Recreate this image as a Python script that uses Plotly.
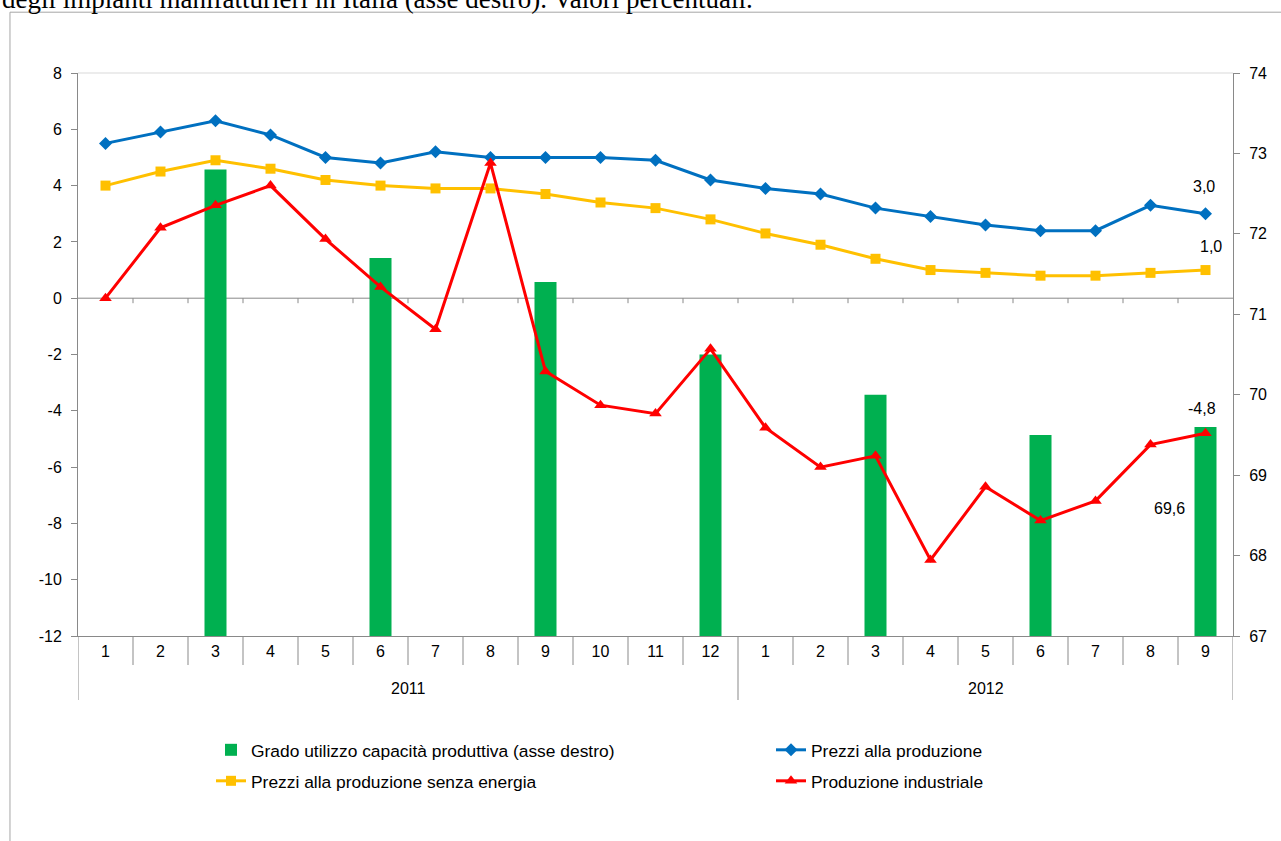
import plotly.graph_objects as go

years = ["2011"] * 12 + ["2012"] * 9
months = [str(m) for m in range(1, 13)] + [str(m) for m in range(1, 10)]

prezzi = [5.5, 5.9, 6.3, 5.8, 5.0, 4.8, 5.2, 5.0, 5.0, 5.0, 4.9, 4.2,
          3.9, 3.7, 3.2, 2.9, 2.6, 2.4, 2.4, 3.3, 3.0]
prezzi_no_energia = [4.0, 4.5, 4.9, 4.6, 4.2, 4.0, 3.9, 3.9, 3.7, 3.4, 3.2, 2.8,
                     2.3, 1.9, 1.4, 1.0, 0.9, 0.8, 0.8, 0.9, 1.0]
produzione = [0.0, 2.5, 3.3, 4.0, 2.1, 0.4, -1.1, 4.8, -2.6, -3.8, -4.1, -1.8,
              -4.6, -6.0, -5.6, -9.3, -6.7, -7.9, -7.2, -5.2, -4.8]
capacita = [None, None, 72.8, None, None, 71.7, None, None, 71.4, None, None, 70.5,
            None, None, 70.0, None, None, 69.5, None, None, 69.6]

left_ticks = list(range(-12, 9, 2))
right_ticks = list(range(67, 75))

FONT = "Liberation Sans, Arial, sans-serif"
GRAY = "#898989"
n = len(months)
xs = list(range(n))

fig = go.Figure()
fig.add_trace(go.Bar(x=xs, y=capacita, name="Grado utilizzo capacità produttiva (asse destro)",
                     marker=dict(color="#00B050", line=dict(width=0)), width=0.4, yaxis="y",
                     legend="legend"))
fig.add_trace(go.Scatter(x=xs, y=prezzi, name="Prezzi alla produzione", mode="lines+markers",
                         line=dict(color="#0070C0", width=3), marker=dict(symbol="diamond", size=10, color="#0070C0"),
                         yaxis="y2", legend="legend2"))
fig.add_trace(go.Scatter(x=xs, y=prezzi_no_energia, name="Prezzi alla produzione senza energia",
                         mode="lines+markers", line=dict(color="#FFC000", width=3),
                         marker=dict(symbol="square", size=10, color="#FFC000"), yaxis="y2", legend="legend3"))
fig.add_trace(go.Scatter(x=xs, y=produzione, name="Produzione industriale", mode="lines+markers",
                         line=dict(color="#FF0000", width=3),
                         marker=dict(symbol="triangle-up", size=11, color="#FF0000"), yaxis="y2",
                         legend="legend4"))

def fmt(v):
    return f"{v:.1f}".replace(".", ",")

annotations = [
    dict(xref="x", yref="y2", x=xs[-1], y=prezzi[-1], text=fmt(prezzi[-1]), showarrow=False,
         yshift=27, xshift=-2),
    dict(xref="x", yref="y2", x=xs[-1], y=prezzi_no_energia[-1], text=fmt(prezzi_no_energia[-1]),
         showarrow=False, yshift=24, xshift=5),
    dict(xref="x", yref="y2", x=xs[-1], y=produzione[-1], text=fmt(produzione[-1]), showarrow=False,
         yshift=25, xshift=-4),
    dict(xref="x", yref="y", x=xs[-1], y=capacita[-1], text=fmt(capacita[-1]), showarrow=False,
         yshift=-82, xshift=-36),
    dict(xref="paper", yref="paper", x=-0.0675, y=1.1012, xanchor="left", yanchor="bottom",
         text="degli impianti manifatturieri in Italia (asse destro). Valori percentuali.", showarrow=False,
         font=dict(family="Liberation Serif, Times New Roman, serif", size=27, color="black")),
]

year_names = []
for y in years:
    if y not in year_names:
        year_names.append(y)
for yname in year_names:
    idx = [i for i, y in enumerate(years) if y == yname]
    annotations.append(dict(xref="x", yref="paper", x=(idx[0] + idx[-1]) / 2, y=0, yanchor="middle",
                            yshift=-52, text=yname, showarrow=False, font=dict(size=16)))

shapes = [
    dict(type="rect", xref="paper", yref="paper", x0=-0.0589, x1=1.06, y0=-0.4, y1=1.108,
         line=dict(color="#A6A6A6", width=1), layer="below"),
    dict(type="line", xref="paper", yref="paper", x0=0, x1=1, y0=1, y1=1,
         line=dict(color="#D9D9D9", width=1), layer="below"),
    dict(type="line", xref="paper", yref="y2", x0=0, x1=1, y0=0, y1=0,
         line=dict(color=GRAY, width=1), layer="below"),
]
for k in range(0, n + 1):
    b = k - 0.5
    is_year_edge = k == 0 or k == n or years[k] != years[k - 1]
    if 0 < k < n:
        shapes.append(dict(type="line", xref="x", yref="y2", ysizemode="pixel", yanchor=0,
                           x0=b, x1=b, y0=0, y1=-5, line=dict(color=GRAY, width=1), layer="below"))
    shapes.append(dict(type="line", xref="x", yref="paper", ysizemode="pixel", yanchor=0,
                       x0=b, x1=b, y0=0, y1=-64 if is_year_edge else -29,
                       line=dict(color=GRAY, width=1), layer="below"))

PW, PH, L, T = 1155, 563, 78, 73

def legend_at(px, py):
    return dict(orientation="v", x=(px - L) / PW, xanchor="left", y=(T + PH - py) / PH, yanchor="middle",
                font=dict(size=17.4, family=FONT), bgcolor="rgba(0,0,0,0)", borderwidth=0)

fig.update_layout(
    width=1281, height=841,
    margin=dict(l=L, r=1281 - L - PW, t=T, b=841 - T - PH),
    paper_bgcolor="white", plot_bgcolor="white",
    font=dict(family=FONT, size=16, color="black"),
    showlegend=True,
    legend=legend_at(211, 750),
    legend2=legend_at(771, 750),
    legend3=legend_at(211, 781),
    legend4=legend_at(771, 781),
    bargap=0.6,
    xaxis=dict(range=[-0.5, n - 0.5], tickmode="array", tickvals=xs, ticktext=months, ticks="",
               showline=True, linecolor=GRAY, showgrid=False, zeroline=False, tickfont=dict(size=16),
               ticklabelstandoff=1),
    yaxis=dict(range=[67, 74], tickmode="array", tickvals=right_ticks, ticktext=[str(t) for t in right_ticks],
               side="right", showline=True, linecolor=GRAY, ticks="outside",
               ticklen=6, tickcolor=GRAY, showgrid=False, zeroline=False, tickfont=dict(size=16),
               ticklabelstandoff=6),
    yaxis2=dict(range=[-12, 8], tickmode="array", tickvals=left_ticks, ticktext=[str(t) for t in left_ticks],
                side="left", overlaying="y", showline=True, linecolor=GRAY,
                ticks="outside", ticklen=6, tickcolor=GRAY, showgrid=False, zeroline=False,
                tickfont=dict(size=16), ticklabelstandoff=6),
    annotations=annotations,
    shapes=shapes,
)

fig.write_html("out.html", config={"displayModeBar": False},
               post_script="document.body.style.margin='0';")
